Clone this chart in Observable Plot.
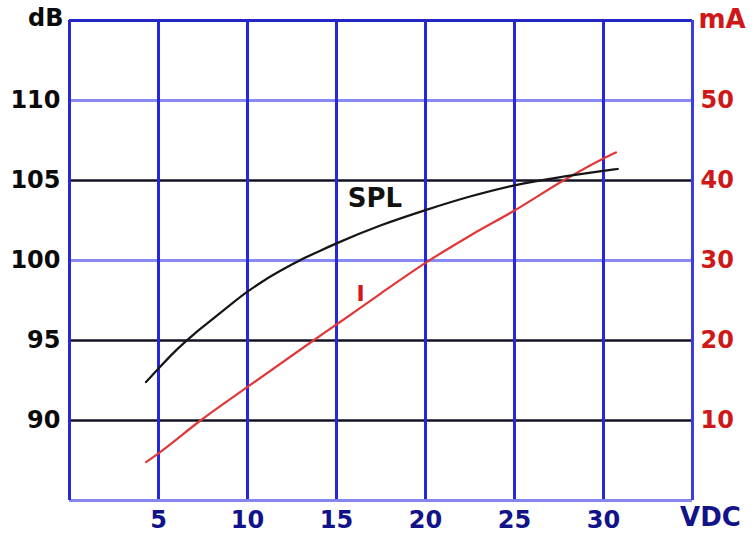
<!DOCTYPE html>
<html>
<head>
<meta charset="utf-8">
<script src="https://cdn.jsdelivr.net/npm/d3@7"></script>
<script src="https://cdn.jsdelivr.net/npm/@observablehq/plot@0.6"></script>
<style>
  html, body { margin: 0; padding: 0; background: #fff; }
</style>
</head>
<body>
<div id="chart"></div>
<script>
// Tick values / labels
const vdcTicks = [5, 10, 15, 20, 25, 30];
const dbTicks = [90, 95, 100, 105, 110];
const maTicks = [10, 20, 30, 40, 50];

// SPL curve (dB vs VDC)
const splVdc = [4.3, 5, 6, 7, 8, 9, 10, 11, 12, 13, 14, 15, 17.5, 20, 22.5, 25, 27.5, 30, 30.8];
const splDb  = [92.4, 93.25, 94.4, 95.4, 96.3, 97.2, 98.05, 98.8, 99.45, 100.05, 100.57, 101.07, 102.2, 103.15, 104.0, 104.7, 105.2, 105.6, 105.72];

// Current curve (mA vs VDC)
const iVdc = [4.3, 5, 7.36, 10, 13.7, 15, 17.5, 20, 22.5, 25, 27.75, 30, 30.7];
const iMa  = [4.8, 5.9, 10, 14.2, 20, 22.0, 25.9, 29.7, 33.1, 36.25, 40, 42.75, 43.5];

// Right axis (mA) shares the vertical space of the left axis (dB): 0 mA = 85 dB, 60 mA = 115 dB
const maToDb = (ma) => 85 + ma / 2;
const dbToMa = (db) => (db - 85) * 2;

const splData = splVdc.map((v, i) => ({v, val: splDb[i]}));
const iData = iVdc.map((v, i) => ({v, val: maToDb(iMa[i])}));

const lightRows = dbTicks.filter(d => d === 110 || d === 100);
const darkRows = dbTicks.filter(d => !(d === 110 || d === 100));

const font = "DejaVu Sans";

const chart = Plot.plot({
  width: 753,
  height: 533,
  marginLeft: 69,
  marginRight: 61,
  marginTop: 20,
  marginBottom: 33,
  x: {domain: [0, 35], label: null},
  y: {domain: [85, 115], label: null},
  style: {fontFamily: font, background: "white", overflow: "visible"},
  marks: [
    Plot.ruleY(lightRows, {y: d => d, stroke: "#8a8af4", strokeWidth: 3}),
    Plot.ruleY(darkRows, {y: d => d, stroke: "#121225", strokeWidth: 2.5}),
    Plot.ruleX(vdcTicks, {x: d => d, stroke: "#2626dc", strokeWidth: 3}),
    // frame
    Plot.ruleY([85], {stroke: "#8686f0", strokeWidth: 3}),
    Plot.ruleY([115], {stroke: "#2424c8", strokeWidth: 3}),
    Plot.ruleX([0], {stroke: "#2a2ad2", strokeWidth: 3}),
    Plot.ruleX([35], {stroke: "#3c3ce2", strokeWidth: 3}),
    // curves
    Plot.line(iData, {x: "v", y: "val", stroke: "#e03838", strokeWidth: 2.2, curve: "monotone-x"}),
    Plot.line(splData, {x: "v", y: "val", stroke: "#151515", strokeWidth: 2.2, curve: "monotone-x"}),
    // axes
    Plot.axisY(dbTicks, {anchor: "left", tickSize: 0, tickPadding: 9, fontSize: 24, fontWeight: "bold", fill: "#0a0a0a", label: null, fontFamily: font}),
    Plot.axisY(maTicks.map(maToDb), {anchor: "right", tickSize: 0, tickPadding: 8, tickFormat: d => String(dbToMa(d)), fontSize: 24, fontWeight: "bold", fill: "#d01818", label: null, fontFamily: font}),
    Plot.axisX(vdcTicks, {anchor: "bottom", tickSize: 0, tickPadding: 10, fontSize: 24, fontWeight: "bold", fill: "#12128a", label: null, fontFamily: font}),
    // unit labels
    Plot.text(["dB"], {text: d => d, frameAnchor: "top-left", textAnchor: "end", lineAnchor: "middle", dx: -6, dy: -2, fontSize: 24, fontWeight: "bold", fill: "#0a0a0a", fontFamily: font}),
    Plot.text(["mA"], {text: d => d, frameAnchor: "top-right", textAnchor: "start", lineAnchor: "middle", dx: 6, dy: -1, fontSize: 26, fontWeight: "bold", fill: "#d01818", fontFamily: font}),
    Plot.text(["VDC"], {text: d => d, frameAnchor: "bottom-right", textAnchor: "middle", lineAnchor: "middle", dx: 18, dy: 17.5, fontSize: 26, fontWeight: "bold", fill: "#12128a", fontFamily: font}),
    // series labels
    Plot.text([{v: 17.16, val: 103.875, t: "SPL"}], {x: "v", y: "val", text: "t", fontSize: 26, fontWeight: "bold", fill: "#111", fontFamily: font}),
    Plot.text([{v: 16.35, val: 97.9, t: "I"}], {x: "v", y: "val", text: "t", fontSize: 22, fontWeight: "bold", fill: "#d01818", fontFamily: font})
  ]
});

document.getElementById("chart").appendChild(chart);
</script>
</body>
</html>
